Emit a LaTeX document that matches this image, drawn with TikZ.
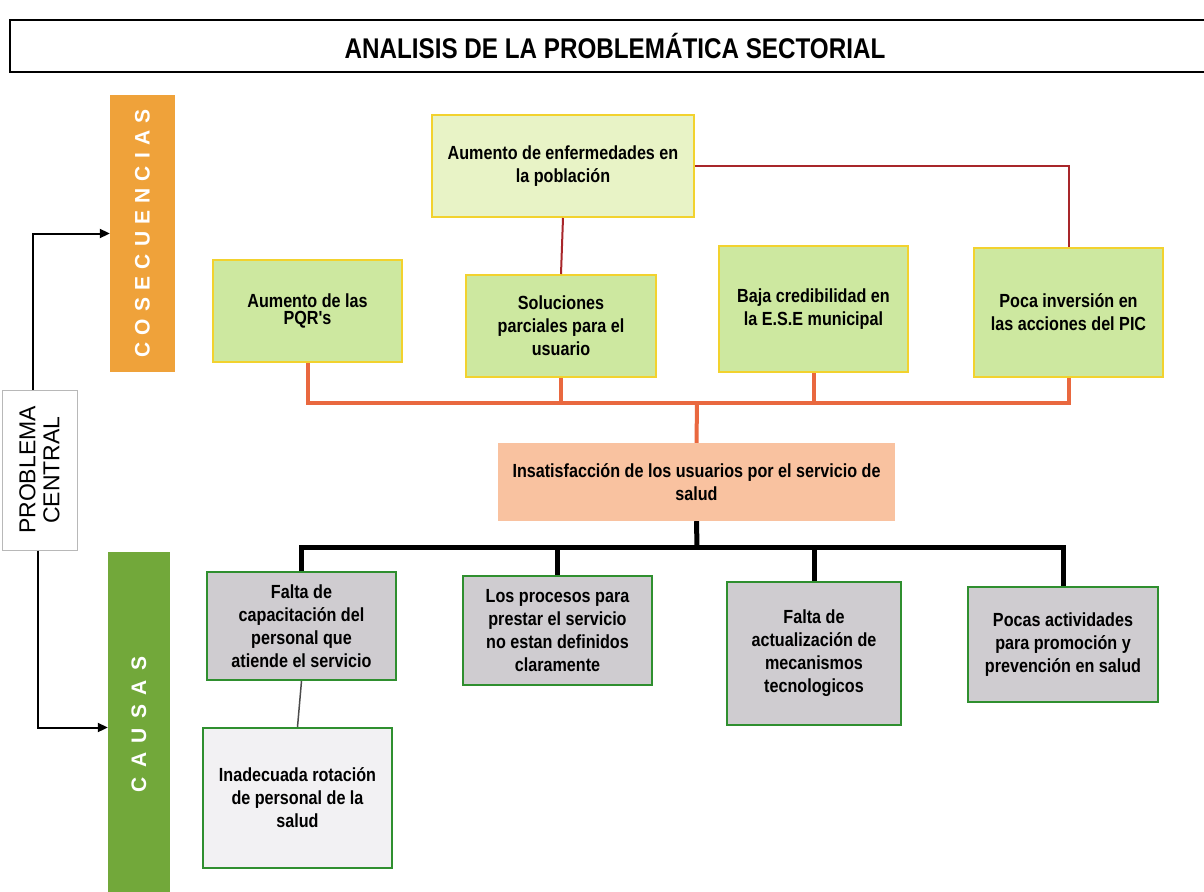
\documentclass[tikz,border=0pt]{standalone}
\usepackage{fontspec}
\setmainfont{Liberation Sans}
\newfontfamily\nodefont[FakeStretch=0.85]{Liberation Sans}
\newfontfamily\titlefont[FakeStretch=0.85]{Liberation Sans}
\newfontfamily\consfont[LetterSpace=34]{Liberation Sans}
\newfontfamily\causfont[LetterSpace=45]{Liberation Sans}
\usetikzlibrary{arrows.meta}
\definecolor{barorange}{HTML}{EFA23A}
\definecolor{bargreen}{HTML}{72A83A}
\definecolor{consfill}{HTML}{CDE8A0}
\definecolor{enffill}{HTML}{E8F3C6}
\definecolor{consborder}{HTML}{F2D22E}
\definecolor{redline}{HTML}{A8262A}
\definecolor{orangeline}{HTML}{E9683F}
\definecolor{peach}{HTML}{F9C2A0}
\definecolor{causefill}{HTML}{CFCCD0}
\definecolor{causeborder}{HTML}{2F8F2F}
\definecolor{lightfill}{HTML}{F2F1F3}
\definecolor{probborder}{HTML}{B8B8B8}
\begin{document}
\begin{tikzpicture}[x=1pt,y=-1pt,
  txt/.style={font=\nodefont\bfseries\fontsize{19}{23}\selectfont, align=center, inner sep=0pt},
  cons/.style={txt, draw=consborder, line width=2pt, fill=consfill},
  cause/.style={txt, draw=causeborder, line width=2pt, fill=causefill},
  bar/.style={rotate=90, inner sep=0pt, text=white},
  oline/.style={draw=orangeline, line width=4pt},
  bline/.style={draw=black, line width=5pt},
  rline/.style={draw=redline, line width=2pt},
  arr/.style={draw=black, line width=2pt, -{Triangle[length=10pt,width=9pt]}}
]
\useasboundingbox (0,0) rectangle (1204,891);
\fill[white] (0,0) rectangle (1204,891);

% title
\node[draw=black, line width=2pt, minimum width=1210pt, minimum height=52pt, inner sep=0pt,
  font=\titlefont\bfseries\fontsize{28.5}{30}\selectfont] (title) at (615,46) {ANALISIS DE LA PROBLEMÁTICA SECTORIAL};

% side bars
\node[bar, fill=barorange, minimum width=277pt, minimum height=65pt,
  font=\consfont\bfseries\fontsize{21}{22}\selectfont] (cons) at (142.5,233.5) {COSECUENCIAS};
\node[bar, fill=bargreen, minimum width=345pt, minimum height=62pt,
  font=\causfont\bfseries\fontsize{21}{22}\selectfont] (causas) at (139,724.5) {CAUSAS};
\node[rotate=90, draw=probborder, line width=1pt, fill=white, minimum width=160pt, minimum height=75pt, inner sep=0pt,
  align=center, font=\fontsize{23}{24}\selectfont] (prob) at (39.5,470) {PROBLEMA\\CENTRAL};

% consequences
\node[cons, fill=enffill, minimum width=262pt, minimum height=102pt] (enf) at (563,166) {Aumento de enfermedades en\\la población};
\node[cons, minimum width=189pt, minimum height=102pt] (pqr) at (307.5,311) {Aumento de las\\[-6pt]PQR's};
\node[cons, minimum width=190pt, minimum height=102pt] (sol) at (561,326) {Soluciones\\parciales para el\\usuario};
\node[cons, minimum width=189pt, minimum height=126pt] (baja) at (813.5,309) {Baja credibilidad en\\la E.S.E municipal};
\node[cons, minimum width=189pt, minimum height=129pt] (poca) at (1068.5,312.5) {Poca inversión en\\las acciones del PIC};

% central problem
\node[txt, fill=peach, minimum width=397pt, minimum height=78pt] (insat) at (696.5,482) {Insatisfacción de los usuarios por el servicio de\\salud};

% causes
\node[cause, minimum width=189pt, minimum height=108pt] (cap) at (301.5,626) {Falta de\\capacitación del\\personal que\\atiende el servicio};
\node[cause, minimum width=189pt, minimum height=109pt] (proc) at (557.5,630.5) {Los procesos para\\prestar el servicio\\no estan definidos\\claramente};
\node[cause, minimum width=174pt, minimum height=143pt] (act) at (814,653.5) {Falta de\\actualización de\\mecanismos\\tecnologicos};
\node[cause, minimum width=190pt, minimum height=115pt] (pocas) at (1063,644.5) {Pocas actividades\\para promoción y\\prevención en salud};
\node[cause, fill=lightfill, minimum width=189pt, minimum height=140pt] (inad) at (297.5,798) {Inadecuada rotación\\de personal de la\\salud};

% buses
\coordinate (obus) at (697,403);
\coordinate (bbus) at (697,547);

% red connectors
\draw[rline] (enf.south) -- (sol.north);
\draw[rline] (enf.east) -| (poca.north);

% orange connectors
\draw[oline] (pqr.south) |- (obus);
\draw[oline] (sol.south) |- (obus);
\draw[oline] (baja.south) |- (obus);
\draw[oline] (poca.south) |- (obus);
\draw[oline] (obus) -- (insat.north);

% black connectors
\draw[bline] (insat.south) -- (bbus);
\draw[bline] (cap.north) |- (bbus);
\draw[bline] (proc.north) |- (bbus);
\draw[bline] (act.north) |- (bbus);
\draw[bline] (pocas.north) |- (bbus);
\draw[draw=black!70, line width=1.5pt] (cap.south) -- (inad.north);

% arrows from central problem
\draw[arr] ([xshift=-7pt]prob.east) |- (cons.north);
\draw[arr] ([xshift=-2pt]prob.west) |- ([yshift=-3pt]causas.north);
\end{tikzpicture}
\end{document}
